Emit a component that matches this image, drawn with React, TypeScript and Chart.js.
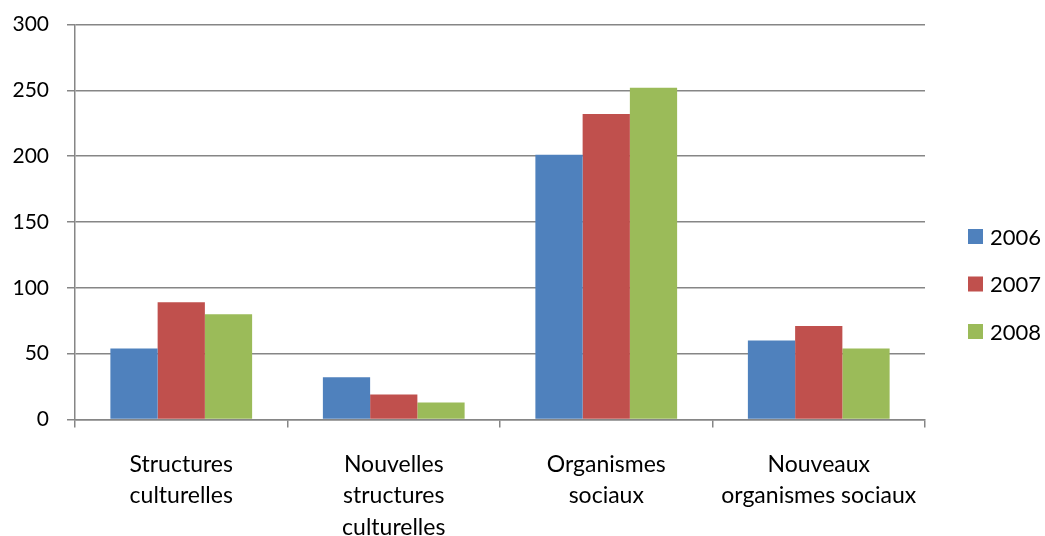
import React, { useEffect, useRef } from "react";
import { Chart, registerables } from "chart.js";

Chart.register(...registerables);

const categories: string[][] = [
  ["Structures", "culturelles"],
  ["Nouvelles", "structures", "culturelles"],
  ["Organismes", "sociaux"],
  ["Nouveaux", "organismes sociaux"],
];
const seriesLabels = ["2006", "2007", "2008"];
const values2006 = [54, 32, 201, 60];
const values2007 = [89, 19, 232, 71];
const values2008 = [80, 13, 252, 54];
const colors = ["#4F81BD", "#C0504D", "#9BBB59"];
const yTicks = [0, 50, 100, 150, 200, 250, 300];

const FONT = "Lato, 'Open Sans', sans-serif";

const legendPlugin = {
  id: "customLegend",
  afterDraw(chart: any) {
    const { ctx, chartArea } = chart;
    const x = chartArea.right + 43;
    const y0 = chartArea.top + 212;
    const gap = 47.5;
    ctx.save();
    ctx.font = `22px ${FONT}`;
    ctx.textBaseline = "middle";
    ctx.textAlign = "left";
    chart.data.datasets.forEach((ds: any, i: number) => {
      const y = y0 + i * gap;
      ctx.fillStyle = ds.backgroundColor;
      ctx.fillRect(x, y - 7.5, 15, 15);
      ctx.fillStyle = "#000";
      ctx.fillText(ds.label, x + 22, y + 1);
    });
    ctx.restore();
  },
};

export default function App() {
  const ref = useRef<HTMLCanvasElement | null>(null);
  useEffect(() => {
    if (!ref.current) return;
    const series = [values2006, values2007, values2008];
    const chart = new Chart(ref.current, {
      type: "bar",
      data: {
        labels: categories,
        datasets: series.map((v, i) => ({
          label: seriesLabels[i],
          data: v,
          backgroundColor: colors[i],
          borderWidth: 0,
          categoryPercentage: 0.667,
          barPercentage: 1.0,
        })),
      },
      options: {
        animation: false,
        responsive: false,
        maintainAspectRatio: false,
        layout: { padding: { top: 24.5, right: 120, left: 0, bottom: 0 } },
        plugins: { legend: { display: false }, tooltip: { enabled: false } },
        scales: {
          x: {
            offset: true,
            afterFit: (scale: any) => {
              scale.height = 116.5;
              scale.paddingLeft = 0;
              scale.paddingRight = 0;
            },
            grid: {
              offset: true,
              drawOnChartArea: false,
              drawTicks: true,
              tickLength: 8,
              color: "#868686",
              lineWidth: 1.5,
            },
            border: { color: "#868686", width: 1.5 },
            ticks: {
              color: "#000",
              font: { family: FONT, size: 23, lineHeight: 1.37 },
              padding: 21,
              maxRotation: 0,
              autoSkip: false,
            },
          },
          y: {
            min: 0,
            max: 300,
            afterBuildTicks: (scale: any) => {
              scale.ticks = yTicks.map((v) => ({ value: v }));
            },
            afterFit: (scale: any) => {
              scale.width = 75;
              scale.paddingTop = 0;
              scale.paddingBottom = 0;
            },
            grid: {
              color: "#868686",
              lineWidth: 1.5,
              drawTicks: true,
              tickLength: 8,
            },
            border: { color: "#868686", width: 1.5 },
            ticks: {
              color: "#000",
              font: { family: FONT, size: 21 },
              padding: 18,
            },
          },
        },
      },
      plugins: [legendPlugin],
    });
    return () => chart.destroy();
  }, []);
  return (
    <div style={{ position: "fixed", left: 0, top: 0, width: 1045, height: 536, background: "#fff" }}>
      <canvas ref={ref} width={1045} height={536} style={{ width: 1045, height: 536 }} />
    </div>
  );
}
